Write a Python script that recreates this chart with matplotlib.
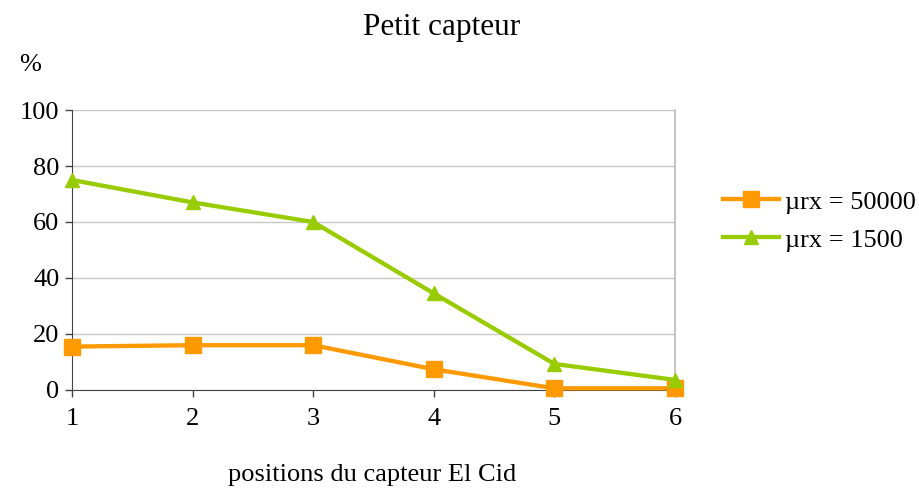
import matplotlib
matplotlib.use("Agg")
import matplotlib.pyplot as plt

positions = [1, 2, 3, 4, 5, 6]
mu_50000 = [15.5, 16, 16, 7.4, 0.6, 0.6]
mu_1500 = [75, 67, 60, 34.5, 9.3, 3.6]
y_ticks = [0, 20, 40, 60, 80, 100]

plt.rcParams['font.family'] = ['Liberation Serif', 'DejaVu Serif']

fig = plt.figure(figsize=(9.19, 4.90), dpi=100)
ax = fig.add_axes([0.0783, 0.2041, 0.6562, 0.5714])

ax.plot(positions, mu_50000, color='#FF9900', lw=3.1, marker='s', ms=12,
        label='µrx = 50000', clip_on=False, zorder=3)
ax.plot(positions, mu_1500, color='#99CC00', lw=3.1, marker='^', ms=10,
        label='µrx = 1500', clip_on=False, zorder=3)

ax.set_xlim(1, 6)
ax.set_ylim(0, 100)
ax.set_xticks(positions)
ax.set_yticks(y_ticks)
ax.grid(axis='y', color='#C8C8C8', lw=1)
ax.set_axisbelow(True)

ax.spines['top'].set_visible(False)
ax.spines['right'].set_color('#BBBBBB')
ax.spines['right'].set_linewidth(1.2)
ax.spines['left'].set_color('#444444')
ax.spines['bottom'].set_color('#444444')
ax.tick_params(axis='both', direction='out', length=5, color='#444444',
               labelsize=19, width=1)
ax.tick_params(axis='x', pad=8)
ax.tick_params(axis='y', pad=4)

fig.text(0.481, 0.944, 'Petit capteur', ha='center', va='center', fontsize=22.5)
fig.text(0.033, 0.868, '%', ha='center', va='center', fontsize=19)
fig.text(0.405, 0.031, 'positions du capteur El Cid', ha='center', va='center',
         fontsize=19)

leg = fig.legend(loc='center left', bbox_to_anchor=(0.772, 0.549), frameon=False,
                 fontsize=19, handlelength=2.15, handletextpad=0.2,
                 labelspacing=0.55, borderpad=0)

fig.savefig('out.png', dpi=100)
